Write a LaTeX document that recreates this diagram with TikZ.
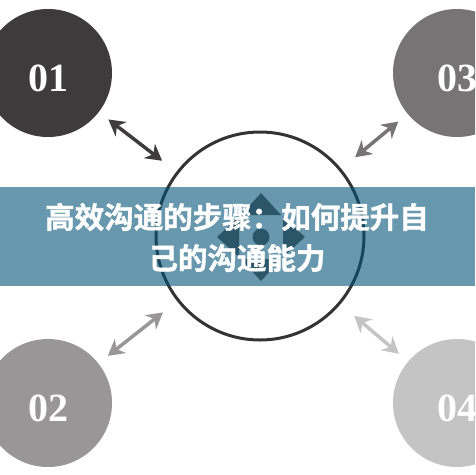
\documentclass[tikz,border=0pt]{standalone}
\usepackage{fontspec}
\newfontfamily\cjk[BoldFont={Noto Sans CJK SC Bold}, BoldFeatures={FakeBold=1.2}]{Noto Sans CJK SC}
\newfontfamily\numfont{Liberation Serif}
\usetikzlibrary{arrows.meta}
\definecolor{stepA}{HTML}{3D3B3C}
\definecolor{stepB}{HTML}{989696}
\definecolor{stepC}{HTML}{767474}
\definecolor{stepD}{HTML}{C4C4C4}
\definecolor{bannerblue}{RGB}{3,83,118}
\definecolor{iconblue}{HTML}{2B5569}
\tikzset{
stepdot/.style={circle, fill=#1, minimum size=128pt, inner sep=0pt},
steplabel/.style={text=white, inner sep=0pt, font=\numfont\bfseries\fontsize{40}{40}\selectfont},
link/.style={draw=#1, line width=3.5pt, {Stealth[length=16pt,width=18pt]}-{Stealth[length=16pt,width=18pt]}, shorten <=12pt, shorten >=18pt},
hub/.style={circle, draw=black!80, line width=3pt, minimum size=208pt, inner sep=0pt}
}

\begin{document}
\begin{tikzpicture}[x=1pt,y=-1pt]
\useasboundingbox (0,0) rectangle (475,475);
\clip (0,0) rectangle (475,475);
\node[hub] (hub) at (260,236) {};
\node[stepdot=stepA] (s1) at (48,73) {};
\node[stepdot=stepB] (s2) at (48,403) {};
\node[stepdot=stepC] (s3) at (457,73) {};
\node[stepdot=stepD] (s4) at (457,403) {};
\node[steplabel] (n1) at ([yshift=-5pt]s1.center) {01};
\node[steplabel] (n2) at ([yshift=-5pt]s2.center) {02};
\node[steplabel] (n3) at ([yshift=-5pt]s3.center) {03};
\node[steplabel] (n4) at ([yshift=-5pt]s4.center) {04};
\draw[link=stepA] (s1) -- (hub);
\draw[link=stepB] (s2) -- (hub);
\draw[link=stepC] (s3) -- (hub);
\draw[link=stepD] (s4) -- (hub);
% banner
\fill[bannerblue, opacity=0.6] (0,187) rectangle (475,286);
\coordinate (mid) at (261,237);
\fill[iconblue] (mid) circle (8.5);
\foreach \a in {0,90,180,270}
  \fill[iconblue, rotate around={\a:(mid)}] ([yshift=44]mid) -- ([xshift=-20,yshift=22]mid) -- ([xshift=20,yshift=22]mid) -- cycle;
\node[text=white, align=center, font=\cjk\bfseries\fontsize{29.5}{41}\selectfont] (title) at (237,237.5) {高效沟通的步骤：如何提升自\\己的沟通能力};
\end{tikzpicture}
\end{document}
